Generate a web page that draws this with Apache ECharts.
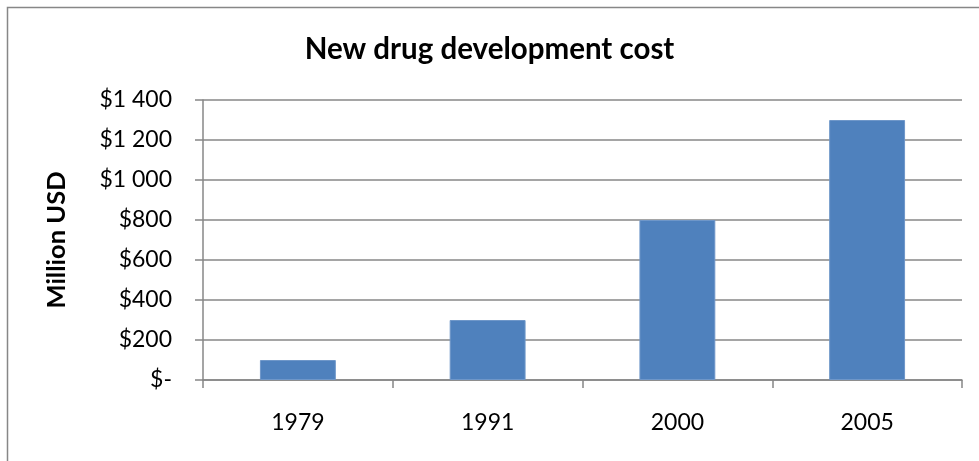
<!DOCTYPE html>
<html>
<head>
<meta charset="utf-8">
<script src="https://cdn.jsdelivr.net/npm/echarts@6/dist/echarts.min.js"></script>
<style>
  html, body { margin: 0; padding: 0; background: #fff; }
  #main { width: 979px; height: 461px; }
</style>
</head>
<body>
<div id="main"></div>
<script>
 // data
 let years = ['1979', '1991', '2000', '2005'];
 let costs = [100, 300, 800, 1300];

 let chart = echarts.init(document.getElementById('main'));

 function money(v) {
     if (v == 0) return '$-';
     // thousands separated with a space
     return '$' + String(v).replace(/\B(?=(\d{3})+(?!\d))/g, ' ');
 }

 let font = 'Lato, "Open Sans", sans-serif';
 let gray = '#878787';

 let option = {
     animation: false,
     title: {
         text: 'New drug development cost',
         left: 'center',
         top: 29,
         textStyle: { fontFamily: font, fontSize: 29.5, fontWeight: 'bold', color: '#000' }
     },
     graphic: [{
         type: 'rect',
         shape: { x: 7.5, y: 7.5, width: 1000, height: 500 },
         style: { fill: 'none', stroke: gray, lineWidth: 1.5 },
         silent: true
     }],
     grid: { left: 203, right: 17, top: 100, bottom: 81 },
     xAxis: {
         type: 'category',
         data: years,
         axisLine: { lineStyle: { color: gray, width: 1.5 } },
         axisTick: { show: true, length: 8, lineStyle: { color: gray, width: 1.5 } },
         axisLabel: { margin: 31, color: '#000', fontFamily: font, fontSize: 23 }
     },
     yAxis: {
         type: 'value',
         min: 0,
         max: 1400,
         interval: 200,
         name: 'Million USD',
         nameLocation: 'middle',
         nameRotate: 90,
         nameGap: 133,
         nameTextStyle: { fontFamily: font, fontSize: 25.5, fontWeight: 'bold', color: '#000' },
         axisLine: { show: true, lineStyle: { color: gray, width: 1.5 } },
         axisTick: { show: true, length: 8, lineStyle: { color: gray, width: 1.5 } },
         axisLabel: { margin: 31, color: '#000', fontFamily: font, fontSize: 23, formatter: money },
         splitLine: { lineStyle: { color: gray, width: 1.5 } }
     },
     series: [{
         type: 'bar',
         data: costs,
         barWidth: '40%',
         itemStyle: { color: '#4F81BD', borderColor: '#6f97c9', borderWidth: 1 }
     }]
 };
 chart.setOption(option);
</script>
</body>
</html>
